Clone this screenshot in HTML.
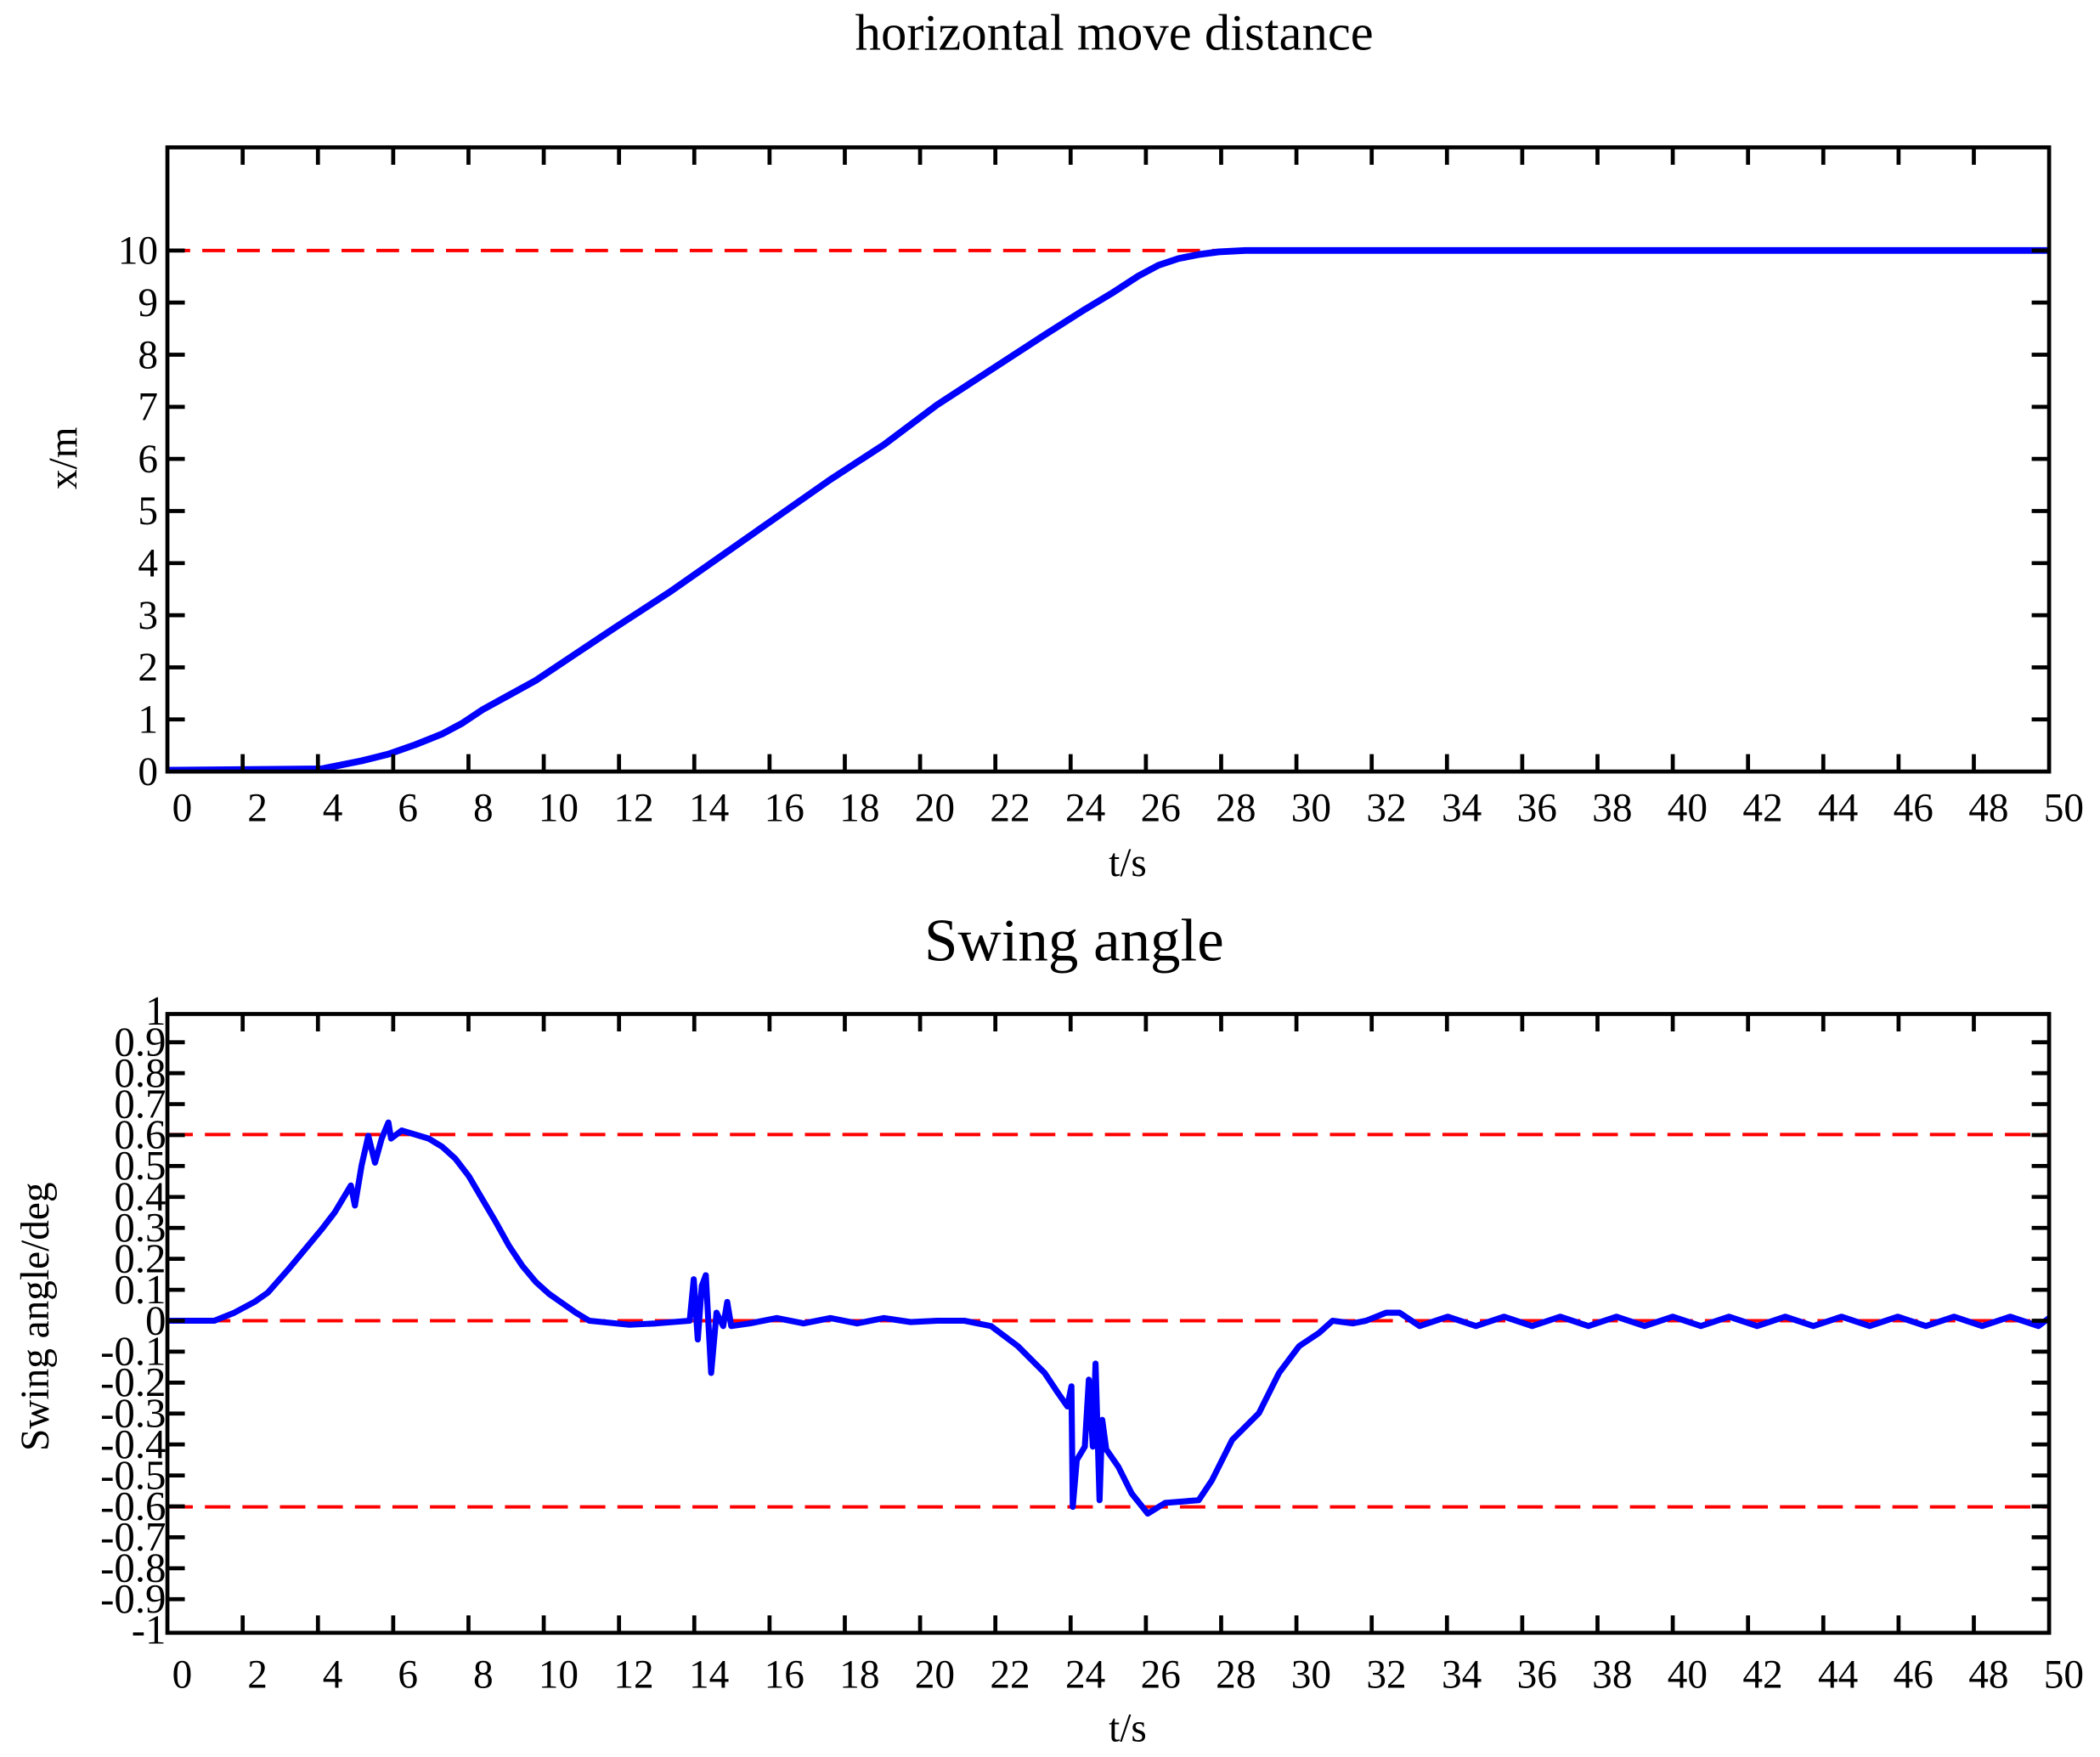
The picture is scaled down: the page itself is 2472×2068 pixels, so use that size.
<!DOCTYPE html>
<html><head><meta charset="utf-8"><style>html,body{margin:0;padding:0;background:#fff}svg{display:block}</style></head>
<body>
<svg width="2472" height="2068" viewBox="0 0 1568 1311.7" xmlns="http://www.w3.org/2000/svg" font-family="Liberation Serif, serif">
<rect width="1568" height="1312" fill="#fff"/>
<!-- TOP PLOT -->
<text x="832" y="37" font-size="38.5" text-anchor="middle">horizontal move distance</text>
<line x1="125" y1="187" x2="1530" y2="187" stroke="#f00" stroke-width="2.5" stroke-dasharray="17,9"/>
<polyline fill="none" stroke="#00f" stroke-width="5" stroke-linejoin="round" points="125,575 240,574 255,571 270,568 290,563 310,556 330,548 345,540 360,530 380,519 400,508 430,488 460,468 500,442 540,414 580,386 620,358 660,332 700,302 740,276 780,250 810,231 830,219 850,206 865,198 880,193 895,190 910,188 930,187 1530,187"/>
<rect x="125" y="110" width="1405" height="466" fill="none" stroke="#000" stroke-width="3"/>
<g id="xt1" stroke="#000" stroke-width="3"></g>
<g id="yt1" stroke="#000" stroke-width="3"></g>
<g id="xl1" font-size="30" text-anchor="middle"></g>
<g id="yl1" font-size="30" text-anchor="end"></g>
<text x="842" y="654" font-size="30" text-anchor="middle">t/s</text>
<text transform="translate(57,342) rotate(-90)" font-size="30" text-anchor="middle">x/m</text>

<!-- BOTTOM PLOT -->
<text x="802" y="717" font-size="45" text-anchor="middle">Swing angle</text>
<g stroke="#f00" stroke-width="2.5" stroke-dasharray="19,9">
<line x1="125" y1="847" x2="1530" y2="847"/>
<line x1="125" y1="986" x2="1530" y2="986"/>
<line x1="125" y1="1125" x2="1530" y2="1125"/>
</g>
<polyline id="sw" fill="none" stroke="#00f" stroke-width="4.5" stroke-linejoin="round" points=""/>
<rect x="125" y="757" width="1405" height="462" fill="none" stroke="#000" stroke-width="3"/>
<g id="xt2" stroke="#000" stroke-width="3"></g>
<g id="yt2" stroke="#000" stroke-width="3"></g>
<g id="xl2" font-size="30" text-anchor="middle"></g>
<g id="yl2" font-size="31" text-anchor="end"></g>
<text x="842" y="1300" font-size="30" text-anchor="middle">t/s</text>
<text transform="translate(36,983) rotate(-90)" font-size="30" text-anchor="middle">Swing angle/deg</text>
</svg>
<script>
var NS="http://www.w3.org/2000/svg";
function el(p,t,a,txt){var e=document.createElementNS(NS,t);for(var k in a)e.setAttribute(k,a[k]);if(txt!==undefined)e.textContent=txt;document.getElementById(p).appendChild(e);}
var L=125,R=1530,sx=(R-L)/50,tl=13;
function xticks(id,lid,top,bot,ly){for(var t=0;t<=50;t+=2){var x=L+t*sx;if(t>0&&t<50){el(id,'line',{x1:x,y1:top,x2:x,y2:top+tl});el(id,'line',{x1:x,y1:bot,x2:x,y2:bot-tl});}el(lid,'text',{x:x+11,y:ly},String(t));}}
xticks('xt1','xl1',110,576,613);
xticks('xt2','xl2',757,1219,1260);
for(var v=0;v<=10;v++){var y=576-v*38.9;if(v>0){el('yt1','line',{x1:L,y1:y,x2:L+tl,y2:y});el('yt1','line',{x1:R,y1:y,x2:R-tl,y2:y});}el('yl1','text',{x:118,y:y+10},String(v));}
for(var i=-10;i<=10;i++){var y=986-i*23.1;if(i>-10&&i<10){el('yt2','line',{x1:L,y1:y,x2:L+tl,y2:y});el('yt2','line',{x1:R,y1:y,x2:R-tl,y2:y});}var s=(i/10).toString();el('yl2','text',{x:124,y:y+10},s);}
var pts=[[125,986],[160,986],[175,980],[190,972],[200,965],[215,948],[230,930],[240,918],[250,905],[262,885],[265,900],[270,870],[275,848],[280,868],[285,850],[290,838],[292,850],[300,844],[320,850],[330,856],[340,865],[350,878],[360,895],[370,912],[380,930],[390,945],[400,957],[410,966],[420,973],[430,980],[440,986],[470,989],[490,988],[515,986],[518,955],[521,1000],[524,960],[527,952],[531,1025],[535,980],[540,990],[543,972],[546,990],[560,988],[580,984],[600,988],[620,984],[640,988],[660,984],[680,987],[700,986],[720,986],[740,990],[760,1005],[780,1025],[790,1040],[797,1050],[800,1035],[801,1125],[804,1090],[810,1080],[813,1030],[816,1080],[818,1018],[821,1120],[823,1060],[826,1082],[835,1095],[845,1115],[857,1130],[870,1122],[895,1120],[905,1105],[920,1075],[940,1055],[955,1025],[970,1005],[985,995],[995,986],[1010,988],[1020,986],[1035,980],[1045,980]];
for(var x=1060;x<=1530;x+=21){pts.push([x,(Math.round((x-1060)/21)%2==0)?990:983]);}
pts.push([1530,984]);
document.getElementById('sw').setAttribute('points',pts.map(function(p){return p.join(',')}).join(' '));
</script>
</body></html>
